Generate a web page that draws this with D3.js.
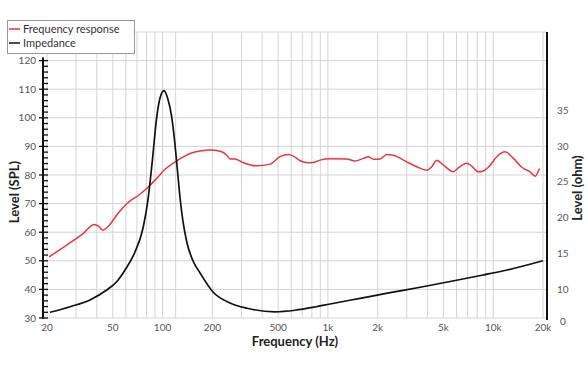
<!DOCTYPE html>
<html><head><meta charset="utf-8">
<script src="https://cdn.jsdelivr.net/npm/d3@7"></script>
<style>body{margin:0;background:#fff} text{font-family:Lato,"Open Sans",sans-serif}</style>
</head><body><svg id="c" width="588" height="372"></svg>
<script>
// ---- data ----
const freqTicks = [20,50,100,200,500,1000,2000,5000,10000,20000];
const freqTickLabels = ["20","50","100","200","500","1k","2k","5k","10k","20k"];
const freqGrid = [20,30,40,50,60,70,80,90,100,120,200,300,400,500,600,700,800,900,1000,2000,3000,4000,5000,6000,7000,8000,9000,10000,20000];
const splTicks = [30,40,50,60,70,80,90,100,110,120];
const splGrid = [30,40,50,60,70,80,90,100,110,120,130];
const ohmTicks = [10,15,20,25,30,35];
const ohmBottomLabel = "0";
const seriesNames = ["Frequency response","Impedance"];
const frFreq = [20.6,26.3,33.2,38.6,40.9,43.6,47,54.6,62,72,82,92,103.5,124,146.6,168.6,198,228,244.5,256,274,308,371,447,513,577,618,679,762,817,897,1030,1301,1459,1637,1757,1883,2068,2270,2489,3000,3450,3963,4250,4556,4990,5740,6153,6917,7414,8127,8714,9350,10500,11800,13250,14890,16720,17920,19020];
const frLevel = [51.4,55.5,59.6,62.7,62.1,60.7,62.1,67.1,70.4,73,75.8,78.8,82,85.2,87.5,88.4,88.7,88.1,86.9,85.6,85.6,84.3,83.2,83.8,86.4,87.2,86.6,85,84.3,84.4,85.2,85.7,85.6,84.9,85.8,86.4,85.5,85.6,87.2,86.9,84.6,82.9,81.7,82.9,85.2,83.5,81.1,82.5,84.1,83.1,81.1,81.4,82.7,86.4,88.1,85.8,82.7,81.1,79.6,82.3];
const impFreq = [20.85,27.6,36.4,45.9,52.8,59.3,68.1,76.2,81.6,86.2,92.2,96.5,102.1,107.2,113.6,118.1,122.8,127.6,133.0,140.6,152.9,168.6,201.9,255.8,324.4,478.9,632.7,836,1031,1566,2378,3614,5482,8689,12140,20000];
const impOhm = [6.79,7.57,8.51,9.90,11.06,12.70,15.21,18.56,22.48,27.36,34.06,36.72,37.74,36.72,34.06,30.85,26.80,22.75,19.40,16.47,13.95,12.28,9.62,8.09,7.35,6.86,7.07,7.53,7.95,8.74,9.53,10.29,11.09,12.00,12.70,13.99];

// ---- layout ----
const L = 43, R = 547, T = 32, B = 318;
const svg = d3.select("#c");
const x = d3.scaleLog().domain([20,20000]).range([47,543]);
const y = d3.scaleLinear().domain([30,130]).range([B,T]);
const yR = d3.scaleLinear().domain([10,35]).range([289.3,110.3]);

// grid
const g = svg.append("g");
g.selectAll("line.v").data(freqGrid).join("line")
  .attr("x1",d=>x(d)).attr("x2",d=>x(d)).attr("y1",T).attr("y2",B)
  .attr("stroke","#d4d4d4").attr("stroke-width",1);
g.selectAll("line.h").data(splGrid).join("line")
  .attr("x1",L).attr("x2",R).attr("y1",d=>y(d)).attr("y2",d=>y(d))
  .attr("stroke","#d4d4d4").attr("stroke-width",1);

// left axis
svg.append("line").attr("x1",L).attr("x2",L).attr("y1",y(120)-3).attr("y2",B+1)
  .attr("stroke","#111").attr("stroke-width",2);
svg.selectAll("line.lt").data(d3.range(30,121,2)).join("line")
  .attr("x1",d=>d%10===0?L-4:L).attr("x2",L+5)
  .attr("y1",d=>y(d)).attr("y2",d=>y(d))
  .attr("stroke","#111").attr("stroke-width",1.3);
svg.selectAll("text.lt").data(splTicks).join("text")
  .attr("x",36).attr("y",d=>y(d)).attr("dy","0.35em").attr("text-anchor","end")
  .attr("font-size",10).attr("fill","#555").text(d=>d);

// right axis
svg.append("line").attr("x1",R).attr("x2",R).attr("y1",T).attr("y2",B+2)
  .attr("stroke","#111").attr("stroke-width",2);
svg.selectAll("text.rt").data(ohmTicks).join("text")
  .attr("x",557).attr("y",d=>yR(d)).attr("dy","0.35em")
  .attr("font-size",10).attr("fill","#555").text(d=>d);
svg.append("text").attr("x",560).attr("y",B+3).attr("dy","0.35em")
  .attr("font-size",10).attr("fill","#555").text(ohmBottomLabel);

// x labels
svg.selectAll("text.xt").data(freqTicks).join("text")
  .attr("x",d=>x(d)).attr("y",327).attr("dy","0.35em").attr("text-anchor","middle")
  .attr("font-size",10).attr("fill","#555").text((d,i)=>freqTickLabels[i]);

// titles
svg.append("text").attr("x",295).attr("y",341).attr("dy","0.35em").attr("text-anchor","middle")
  .attr("font-size",13).attr("font-weight","bold").attr("fill","#222").text("Frequency (Hz)");
svg.append("text").attr("transform","translate(14,192) rotate(-90)").attr("dy","0.35em")
  .attr("text-anchor","middle").attr("font-size",13).attr("font-weight","bold").attr("fill","#222").text("Level (SPL)");
svg.append("text").attr("transform","translate(577,188) rotate(-90)").attr("dy","0.35em")
  .attr("text-anchor","middle").attr("font-size",13).attr("font-weight","bold").attr("fill","#222").text("Level (ohm)");

// curves
const fr = frFreq.map((f,i)=>[f,frLevel[i]]);
const imp = impFreq.map((f,i)=>[f,impOhm[i]]);
svg.append("path").datum(fr)
  .attr("d",d3.line().x(d=>x(d[0])).y(d=>y(d[1])).curve(d3.curveMonotoneX))
  .attr("fill","none").attr("stroke","#e8353f").attr("stroke-width",1.5);
svg.append("path").datum(imp)
  .attr("d",d3.line().x(d=>x(d[0])).y(d=>yR(d[1])).curve(d3.curveMonotoneX))
  .attr("fill","none").attr("stroke","#111").attr("stroke-width",1.7);

// legend
const lg = svg.append("g");
lg.append("rect").attr("x",7.5).attr("y",20.5).attr("width",127).attr("height",33)
  .attr("fill","#fff").attr("stroke","#999").attr("stroke-width",1);
const colors = ["#e8353f","#111"];
seriesNames.forEach((n,i)=>{
  const yy = 29 + i*14;
  lg.append("line").attr("x1",9).attr("x2",20).attr("y1",yy).attr("y2",yy)
    .attr("stroke",colors[i]).attr("stroke-width",1.5);
  lg.append("text").attr("x",23).attr("y",yy).attr("dy","0.35em")
    .attr("font-size",11).attr("fill","#333").text(n);
});
</script></body></html>
